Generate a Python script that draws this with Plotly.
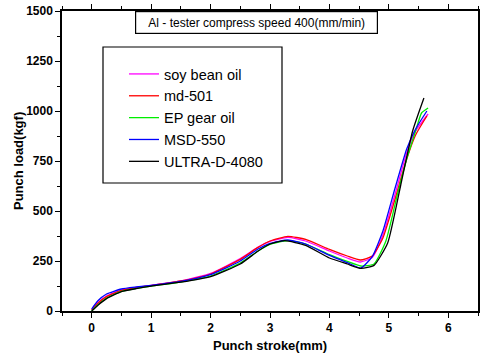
import plotly.graph_objects as go

names = ["soy bean oil", "md-501", "EP gear oil", "MSD-550", "ULTRA-D-4080"]
colors = ["#ff00ff", "#ff0000", "#00ee00", "#0000ff", "#000000"]

x_soy = [0, 0.1, 0.25, 0.5, 0.75, 1, 1.5, 2, 2.5, 2.8, 3.0, 3.3, 3.6, 4.0, 4.3, 4.52, 4.72, 4.9, 5.1, 5.3, 5.45, 5.66]
y_soy = [5, 40, 75, 105, 118, 128, 150, 188, 262, 320, 348, 368, 350, 300, 265, 245, 268, 380, 580, 790, 900, 985]

x_md = [0, 0.1, 0.25, 0.5, 0.75, 1, 1.5, 2, 2.5, 2.8, 3.0, 3.3, 3.6, 4.0, 4.3, 4.52, 4.72, 4.9, 5.1, 5.3, 5.45, 5.64]
y_md = [5, 38, 72, 103, 117, 127, 150, 185, 258, 318, 350, 373, 358, 308, 275, 255, 275, 365, 555, 760, 880, 975]

x_ep = [0, 0.1, 0.25, 0.5, 0.75, 1, 1.5, 2, 2.5, 2.8, 3.0, 3.3, 3.6, 4.0, 4.3, 4.53, 4.75, 4.95, 5.15, 5.3, 5.45, 5.55, 5.66]
y_ep = [0, 30, 65, 98, 113, 125, 145, 175, 240, 300, 333, 352, 335, 282, 248, 225, 235, 350, 590, 760, 900, 990, 1015]

x_msd = [0, 0.1, 0.25, 0.5, 0.75, 1, 1.5, 2, 2.5, 2.8, 3.0, 3.3, 3.6, 4.0, 4.3, 4.53, 4.72, 4.9, 5.1, 5.3, 5.45, 5.64]
y_msd = [10, 50, 85, 110, 120, 128, 148, 182, 250, 310, 338, 355, 335, 278, 242, 215, 272, 400, 610, 810, 910, 1000]

x_ultra = [0, 0.1, 0.25, 0.5, 0.75, 1, 1.5, 2, 2.5, 2.8, 3.0, 3.25, 3.6, 4.0, 4.3, 4.53, 4.75, 4.98, 5.2, 5.4, 5.59]
y_ultra = [0, 28, 62, 97, 112, 124, 144, 172, 235, 300, 335, 352, 328, 265, 235, 213, 228, 340, 630, 900, 1065]

xs = [x_soy, x_md, x_ep, x_msd, x_ultra]
ys = [y_soy, y_md, y_ep, y_msd, y_ultra]

x_ticks = [0, 1, 2, 3, 4, 5, 6]
y_ticks = [0, 250, 500, 750, 1000, 1250, 1500]

fig = go.Figure()
for n, c, x, y in zip(names, colors, xs, ys):
    fig.add_trace(go.Scatter(x=x, y=y, name=n, mode="lines",
                             line=dict(color=c, width=1.3, shape="spline", smoothing=0.5)))

font = "Liberation Sans, Arial, sans-serif"
axis_common = dict(showline=True, linecolor="black", linewidth=1.5, mirror="ticks",
                   ticks="outside", ticklen=5, tickwidth=1.2, tickcolor="black",
                   showgrid=False, zeroline=False, automargin=False,
                   tickfont=dict(family=font, size=12, color="black", weight="bold"))
fig.update_xaxes(range=[-0.5, 6.5], tickvals=x_ticks,
                 minor=dict(dtick=0.5, ticks="outside", ticklen=3, tickcolor="black", showgrid=False),
                 **axis_common)
fig.update_yaxes(range=[0, 1500], tickvals=y_ticks,
                 minor=dict(dtick=125, ticks="outside", ticklen=3, tickcolor="black", showgrid=False),
                 **axis_common)

# axis titles
fig.add_annotation(xref="paper", yref="paper", x=0.5, y=-34 / 300, xanchor="center", yanchor="middle",
                   showarrow=False, text="<b>Punch stroke(mm)</b>",
                   font=dict(family=font, size=13, color="black"))
fig.add_annotation(xref="paper", yref="paper", x=-44 / 416, y=0.5, xanchor="center", yanchor="middle",
                   showarrow=False, text="<b>Punch load(kgf)</b>", textangle=-90,
                   font=dict(family=font, size=13, color="black"))

fig.add_shape(type="rect", xref="paper", yref="paper",
              x0=(103 - 62) / 416, x1=(282 - 62) / 416,
              y0=(311 - 183) / 300, y1=(311 - 47) / 300,
              line=dict(color="black", width=1.2), fillcolor="rgba(0,0,0,0)")

fig.add_annotation(xref="paper", yref="paper", x=(256.5 - 62) / 416, y=1.0,
                   xanchor="center", yanchor="top", showarrow=False,
                   text="Al - tester compress speed 400(mm/min)",
                   font=dict(family=font, size=12, color="black"),
                   bordercolor="black", borderwidth=1.2, width=239, height=19, bgcolor="white")

fig.update_layout(
    width=480, height=355,
    margin=dict(l=62, r=2, t=11, b=44, autoexpand=False),
    paper_bgcolor="white", plot_bgcolor="white",
    font=dict(family=font, color="black"),
    legend=dict(x=(124 - 62) / 416, y=(311 - 58) / 300, xanchor="left", yanchor="top",
                bgcolor="rgba(0,0,0,0)", borderwidth=0,
                font=dict(family=font, size=14.5, color="black"),
                tracegroupgap=0),
    showlegend=True,
)

fig.write_html("out.html", config={"displayModeBar": False},
               post_script="document.body.style.margin='0';document.body.style.overflow='hidden';")
